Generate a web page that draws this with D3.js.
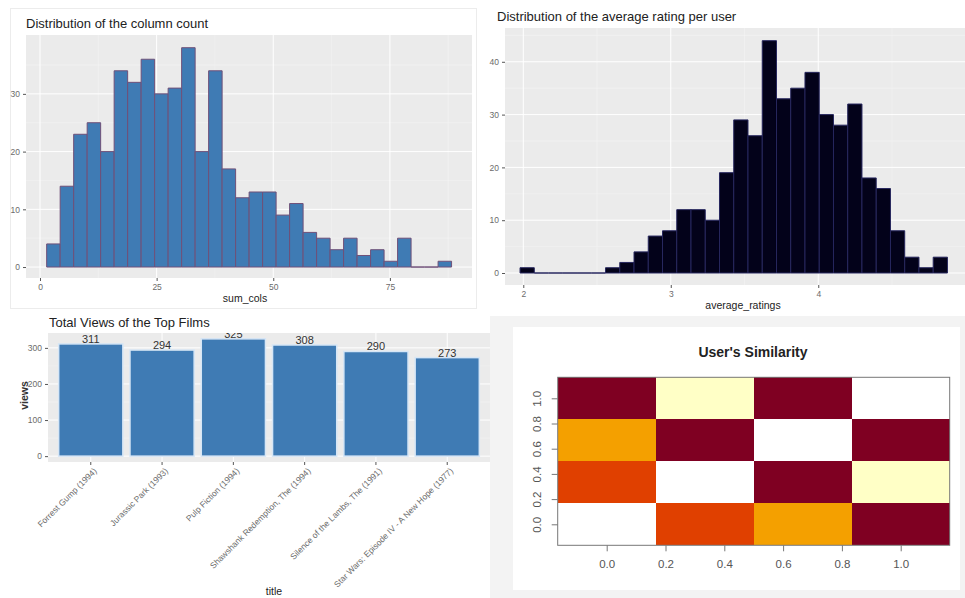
<!DOCTYPE html>
<html>
<head>
<meta charset="utf-8">
<script src="https://cdn.jsdelivr.net/npm/d3@7"></script>
<style>
  body { margin: 0; background: #fff; }
  svg { display: block; font-family: "Liberation Sans", Arial, sans-serif; }
</style>
</head>
<body>
<svg id="chart" width="965" height="598"></svg>
<script>
// sum_cols histogram (30 bins)
var colBinStart = 1.43;
var colBinWidth = 2.893;
var colCounts = [4, 14, 23, 25, 20, 34, 32, 36, 30, 31, 38, 20, 34, 17, 12,
                 13, 13, 9, 11, 6, 5, 3, 5, 2, 3, 1, 5, 0, 0, 1];
var colXTicks = [0, 25, 50, 75];
var colYTicks = [0, 10, 20, 30];

// average_ratings histogram (30 bins)
var ratingBinStart = 1.978;
var ratingBinWidth = 0.0966;
var ratingCounts = [1, 0, 0, 0, 0, 0, 1, 2, 4, 7, 8, 12, 12, 10, 19,
                    29, 26, 44, 33, 35, 38, 30, 28, 32, 18, 16, 8, 3, 1, 3];
var ratingXTicks = [2, 3, 4, 5];
var ratingYTicks = [0, 10, 20, 30, 40];

// top films
var filmTitles = ['Forrest Gump (1994)', 'Jurassic Park (1993)', 'Pulp Fiction (1994)',
                  'Shawshank Redemption, The (1994)', 'Silence of the Lambs, The (1991)',
                  'Star Wars: Episode IV - A New Hope (1977)'];
var filmViews = [311, 294, 325, 308, 290, 273];
var viewTicks = [0, 100, 200, 300];

// user similarity (4 users), simMatrix[x][y]
var simUsers = [0, 1, 2, 3];
var simMatrix = [
  [1.00, 0.35, 0.55, 0.05],
  [0.35, 1.00, 0.05, 0.90],
  [0.55, 0.05, 1.00, 0.05],
  [0.05, 0.90, 0.05, 1.00]
];
var simTicks = [0, 0.2, 0.4, 0.6, 0.8, 1.0];
var heatColors = ['#7f0022', '#e04000', '#f4a000', '#ffffc6', '#ffffff'];

var svg = d3.select('#chart');

/* ---
 * ggplot-like grey panel with major and minor grid lines
 */
function ggPanel(g, x, y, xTicks, yTicks) {
  var x0 = x.range()[0], x1 = x.range()[1];
  var y0 = y.range()[1], y1 = y.range()[0];
  g.append('rect')
   .attr('x', x0).attr('y', y0)
   .attr('width', x1 - x0).attr('height', y1 - y0)
   .attr('fill', '#ebebeb');

  var minorX = [], minorY = [];
  var dx = xTicks[1] - xTicks[0], dy = yTicks[1] - yTicks[0];
  for (var i = -1; i < xTicks.length; i++) minorX.push(xTicks[0] + dx * (i + 0.5));
  for (var j = -1; j < yTicks.length + 1; j++) minorY.push(yTicks[0] + dy * (j + 0.5));
  var inX = function(v) { return x(v) >= x0 && x(v) <= x1; };
  var inY = function(v) { return y(v) >= y0 && y(v) <= y1; };

  g.selectAll(null).data(minorX.filter(inX)).enter().append('line')
   .attr('x1', d => x(d)).attr('x2', d => x(d)).attr('y1', y0).attr('y2', y1)
   .attr('stroke', '#f5f5f5').attr('stroke-width', 0.5);
  g.selectAll(null).data(minorY.filter(inY)).enter().append('line')
   .attr('y1', d => y(d)).attr('y2', d => y(d)).attr('x1', x0).attr('x2', x1)
   .attr('stroke', '#f5f5f5').attr('stroke-width', 0.5);
  g.selectAll(null).data(xTicks.filter(inX)).enter().append('line')
   .attr('x1', d => x(d)).attr('x2', d => x(d)).attr('y1', y0).attr('y2', y1)
   .attr('stroke', '#fff').attr('stroke-width', 1);
  g.selectAll(null).data(yTicks.filter(inY)).enter().append('line')
   .attr('y1', d => y(d)).attr('y2', d => y(d)).attr('x1', x0).attr('x2', x1)
   .attr('stroke', '#fff').attr('stroke-width', 1);
}

function ggAxes(g, x, y, xTicks, yTicks) {
  var xAxis = d3.axisBottom(x).tickValues(xTicks.filter(v => x(v) <= x.range()[1]))
                .tickSize(3).tickPadding(3).tickFormat(d3.format('d'));
  var yAxis = d3.axisLeft(y).tickValues(yTicks).tickSize(3).tickPadding(3)
                .tickFormat(d3.format('d'));
  var gx = g.append('g').attr('transform', 'translate(0,' + y.range()[0] + ')').call(xAxis);
  var gy = g.append('g').attr('transform', 'translate(' + x.range()[0] + ',0)').call(yAxis);
  [gx, gy].forEach(function(a) {
    a.select('.domain').remove();
    a.selectAll('line').attr('stroke', '#555');
    a.selectAll('text').attr('fill', '#6b6b6b').attr('font-size', 8.5)
     .attr('font-family', '"Liberation Sans", Arial, sans-serif');
  });
  return gx;
}

function histogram(opts) {
  var g = svg.append('g');
  var x = d3.scaleLinear().domain(opts.xDomain).range([opts.left, opts.right]);
  var y = d3.scaleLinear().domain(opts.yDomain).range([opts.bottom, opts.top]);

  g.append('defs').append('clipPath').attr('id', opts.id)
   .append('rect').attr('x', opts.left).attr('y', opts.top)
   .attr('width', opts.right - opts.left).attr('height', opts.bottom - opts.top);

  ggPanel(g, x, y, opts.xTicks, opts.yTicks);

  // zero-count bins still draw as a flat outline, like ggplot
  g.append('g').attr('clip-path', 'url(#' + opts.id + ')')
   .selectAll('path').data(opts.counts).enter().append('path')
   .attr('d', function(d, i) {
     var a = x(opts.binStart + i * opts.binWidth), b = x(opts.binStart + (i + 1) * opts.binWidth);
     return 'M' + a + ',' + y(0) + 'V' + y(d) + 'H' + b + 'V' + y(0) + 'Z';
   })
   .attr('fill', opts.fill)
   .attr('stroke', opts.stroke)
   .attr('stroke-width', 1);

  ggAxes(g, x, y, opts.xTicks, opts.yTicks);

  g.append('text').attr('x', opts.titleX).attr('y', opts.titleY)
   .attr('font-size', 13).attr('fill', '#222').text(opts.title);
  g.append('text').attr('x', (opts.left + Math.min(opts.right, 965)) / 2 + opts.xTitleShift)
   .attr('y', opts.xTitleY).attr('text-anchor', 'middle')
   .attr('font-size', 10.5).attr('fill', '#222').text(opts.xTitle);
}

/* ---
 * Backgrounds of the four pasted plots
 */
svg.append('rect').attr('x', 0).attr('y', 0).attr('width', 965).attr('height', 598).attr('fill', '#fff');
svg.append('rect').attr('x', 10.5).attr('y', 8.5).attr('width', 466).attr('height', 300)
   .attr('fill', '#fff').attr('stroke', '#ececec');
svg.append('rect').attr('x', 490).attr('y', 316).attr('width', 475).attr('height', 282).attr('fill', '#f3f3f3');
svg.append('rect').attr('x', 513).attr('y', 327).attr('width', 447).attr('height', 263).attr('fill', '#fff');

histogram({
  id: 'clipCols', left: 26, right: 472, top: 35, bottom: 278,
  xDomain: [-3, 92.6], yDomain: [-1.9, 40.2],
  xTicks: colXTicks, yTicks: colYTicks,
  counts: colCounts, binStart: colBinStart, binWidth: colBinWidth,
  fill: '#3f7bb4', stroke: '#6f5078',
  title: 'Distribution of the column count', titleX: 26, titleY: 28,
  xTitle: 'sum_cols', xTitleY: 302, xTitleShift: -4
});

histogram({
  id: 'clipRating', left: 505, right: 965, top: 28, bottom: 285,
  xDomain: [1.876, 4.995], yDomain: [-2.27, 46.4],
  xTicks: ratingXTicks, yTicks: ratingYTicks,
  counts: ratingCounts, binStart: ratingBinStart, binWidth: ratingBinWidth,
  fill: '#03021a', stroke: '#27275e',
  title: 'Distribution of the average rating per user', titleX: 497, titleY: 21,
  xTitle: 'average_ratings', xTitleY: 309, xTitleShift: 8
});

/* ---
 * Bar chart of the top films
 */
(function() {
  var g = svg.append('g');
  var left = 48, right = 490, top = 333, bottom = 462;
  var x = d3.scaleBand().domain(filmTitles).range([left, right]).paddingInner(0.1).paddingOuter(0.15);
  var y = d3.scaleLinear().domain([-16.25, 341.25]).range([bottom, top]);

  g.append('defs').append('clipPath').attr('id', 'clipFilms')
   .append('rect').attr('x', left).attr('y', top).attr('width', right - left).attr('height', bottom - top);

  g.append('rect').attr('x', left).attr('y', top).attr('width', right - left).attr('height', bottom - top)
   .attr('fill', '#ebebeb');
  g.selectAll(null).data([50, 150, 250]).enter().append('line')
   .attr('x1', left).attr('x2', right).attr('y1', d => y(d)).attr('y2', d => y(d))
   .attr('stroke', '#f5f5f5').attr('stroke-width', 0.5);
  g.selectAll(null).data(viewTicks).enter().append('line')
   .attr('x1', left).attr('x2', right).attr('y1', d => y(d)).attr('y2', d => y(d))
   .attr('stroke', '#fff');
  g.selectAll(null).data(filmTitles).enter().append('line')
   .attr('x1', d => x(d) + x.bandwidth() / 2).attr('x2', d => x(d) + x.bandwidth() / 2)
   .attr('y1', top).attr('y2', bottom).attr('stroke', '#fff');

  var plot = g.append('g').attr('clip-path', 'url(#clipFilms)');
  plot.selectAll('rect.bar').data(filmViews).enter().append('rect')
   .attr('class', 'bar')
   .attr('x', (d, i) => x(filmTitles[i]))
   .attr('width', x.bandwidth())
   .attr('y', d => y(d))
   .attr('height', d => y(0) - y(d))
   .attr('fill', '#3f7bb4')
   .attr('stroke', '#d6e6f6').attr('stroke-width', 1.5);
  plot.selectAll('text.val').data(filmViews).enter().append('text')
   .attr('class', 'val')
   .attr('x', (d, i) => x(filmTitles[i]) + x.bandwidth() / 2)
   .attr('y', d => y(d) - 1)
   .attr('text-anchor', 'middle').attr('font-size', 11).attr('fill', '#333')
   .text(d => d);

  var yAxis = d3.axisLeft(y).tickValues(viewTicks).tickSize(3).tickPadding(3);
  var gy = g.append('g').attr('transform', 'translate(' + left + ',0)').call(yAxis);
  gy.select('.domain').remove();
  gy.selectAll('line').attr('stroke', '#555');
  gy.selectAll('text').attr('fill', '#6b6b6b').attr('font-size', 8.5)
    .attr('font-family', '"Liberation Sans", Arial, sans-serif');

  var xAxis = d3.axisBottom(x).tickSize(3).tickPadding(2);
  var gx = g.append('g').attr('transform', 'translate(0,' + bottom + ')').call(xAxis);
  gx.select('.domain').remove();
  gx.selectAll('line').attr('stroke', '#555');
  gx.selectAll('text').attr('fill', '#6b6b6b').attr('font-size', 8.5)
    .attr('font-family', '"Liberation Sans", Arial, sans-serif')
    .attr('text-anchor', 'end').attr('dy', null)
    .attr('transform', 'translate(3,6) rotate(-45)');

  g.append('text').attr('x', 49).attr('y', 327).attr('font-size', 13).attr('fill', '#222')
   .text('Total Views of the Top Films');
  g.append('text').attr('transform', 'translate(28,' + ((top + bottom) / 2 - 2) + ') rotate(-90)')
   .attr('text-anchor', 'middle').attr('font-size', 10.5).attr('font-weight', 'bold')
   .attr('fill', '#333').text('views');
  g.append('text').attr('x', 274).attr('y', 595).attr('text-anchor', 'middle')
   .attr('font-size', 10.5).attr('fill', '#222').text('title');
})();

/* ---
 * Heat map of the user similarity, base-R image() style
 */
(function() {
  var g = svg.append('g');
  var left = 557.7, right = 949.7, top = 377.3, bottom = 545.3;
  var step = 1 / (simUsers.length - 1);
  var x = d3.scaleLinear().domain([-step / 2, 1 + step / 2]).range([left, right]);
  var y = d3.scaleLinear().domain([-step / 2, 1 + step / 2]).range([bottom, top]);
  var color = d3.scaleThreshold().domain([0.2, 0.45, 0.7, 0.95]).range(heatColors);

  var cells = [];
  simUsers.forEach(function(i) {
    simUsers.forEach(function(j) { cells.push({ i: i, j: j, v: simMatrix[i][j] }); });
  });
  g.selectAll('rect.cell').data(cells).enter().append('rect')
   .attr('class', 'cell')
   .attr('x', d => x(d.i * step - step / 2))
   .attr('y', d => y(d.j * step + step / 2))
   .attr('width', d => x(step) - x(0))
   .attr('height', d => y(0) - y(step))
   .attr('fill', d => color(d.v))
   .attr('shape-rendering', 'crispEdges');

  g.append('rect').attr('x', left).attr('y', top).attr('width', right - left).attr('height', bottom - top)
   .attr('fill', 'none').attr('stroke', '#777').attr('stroke-width', 1);

  var xAxis = d3.axisBottom(x).tickValues(simTicks).tickSize(6).tickPadding(9).tickFormat(d3.format('.1f'));
  var gx = g.append('g').attr('transform', 'translate(0,' + bottom + ')').call(xAxis);
  gx.select('.domain').remove();
  gx.selectAll('line').attr('stroke', '#777');
  gx.selectAll('text').attr('fill', '#555').attr('font-size', 11.5)
    .attr('font-family', '"Liberation Sans", Arial, sans-serif');

  var yAxis = d3.axisLeft(y).tickValues(simTicks).tickSize(6).tickPadding(10).tickFormat(d3.format('.1f'));
  var gy = g.append('g').attr('transform', 'translate(' + left + ',0)').call(yAxis);
  gy.select('.domain').remove();
  gy.selectAll('line').attr('stroke', '#777');
  gy.selectAll('text').attr('fill', '#555').attr('font-size', 11.5)
    .attr('font-family', '"Liberation Sans", Arial, sans-serif')
    .attr('text-anchor', 'middle').attr('x', null)
    .attr('transform', 'translate(-21,0) rotate(-90)')
    .attr('dy', '0.35em');

  g.append('text').attr('x', 753).attr('y', 357).attr('text-anchor', 'middle')
   .attr('font-size', 14).attr('font-weight', 'bold').attr('fill', '#222')
   .text("User's Similarity");
})();
</script>
</body>
</html>
